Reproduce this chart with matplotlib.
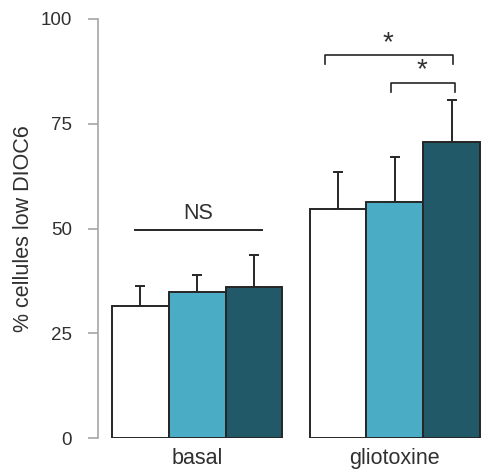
import numpy as np
import matplotlib.pyplot as plt

plt.rcParams["font.family"] = ["Liberation Sans", "DejaVu Sans"]

groupes = ["basal", "gliotoxine"]
series_couleurs = ["#ffffff", "#4bacc6", "#215968"]

# valeurs moyennes (%), une liste par condition
moy_blanc = [31.6, 54.7]
moy_bleu = [35.0, 56.4]
moy_fonce = [36.0, 70.7]

# erreur (vers le haut seulement)
err_blanc = [4.7, 8.7]
err_bleu = [3.9, 10.8]
err_fonce = [7.7, 10.0]

yticks = [0, 25, 50, 75, 100]

moyennes = [moy_blanc, moy_bleu, moy_fonce]
erreurs = [err_blanc, err_bleu, err_fonce]

texte = "#303030"

fig = plt.figure(figsize=(4.88, 4.75), dpi=100)
ax = fig.add_axes([0.2014, 0.0772, 0.794, 0.8828])

x = np.arange(len(groupes))
w = 0.2875

for i in range(3):
    pos = x + (i - 1) * w
    ax.bar(pos, moyennes[i], width=w, color=series_couleurs[i],
           edgecolor="#262626", linewidth=1.4, zorder=2)
    ax.errorbar(pos, moyennes[i], yerr=[np.zeros(2), erreurs[i]],
                fmt="none", ecolor="#262626", elinewidth=1.4,
                capsize=3.5, capthick=1.4, zorder=1)

# NS
ax.plot([x[0] - 0.315, x[0] + 0.329], [49.8, 49.8], color="#262626", lw=1.4)
ax.text(x[0] + 0.007, 51.2, "NS", ha="center", va="bottom",
        fontsize=15.5, color=texte)

# crochets *
ax.plot([x[1] - 0.353, x[1] - 0.353, x[1] + 0.292, x[1] + 0.292],
        [89.2, 91.4, 91.4, 89.2], color="#262626", lw=1.2)
ax.text(x[1] - 0.035, 94.2, "*", ha="center", va="center",
        fontsize=20, color=texte)
ax.plot([x[1] - 0.020, x[1] - 0.020, x[1] + 0.306, x[1] + 0.306],
        [82.5, 84.7, 84.7, 82.5], color="#262626", lw=1.2)
ax.text(x[1] + 0.136, 87.8, "*", ha="center", va="center",
        fontsize=20, color=texte)

ax.set_ylim(0, 100)
ax.set_xlim(-0.501, 1.460)
ax.set_yticks(yticks)
ax.set_xticks(x)
ax.set_xticklabels(groupes)
ax.set_ylabel("% cellules low DIOC6", fontsize=15.5, color=texte, labelpad=5)

for s in ["top", "right", "bottom"]:
    ax.spines[s].set_visible(False)
ax.spines["left"].set_color("#a6a6a6")
ax.spines["left"].set_linewidth(1.2)
ax.tick_params(axis="y", direction="out", length=7, width=1.2, color="#a6a6a6",
               labelsize=13.5, labelcolor=texte, pad=12)
ax.tick_params(axis="x", length=0, labelsize=15.5, labelcolor=texte, pad=7)

fig.savefig("out.png", dpi=100)
